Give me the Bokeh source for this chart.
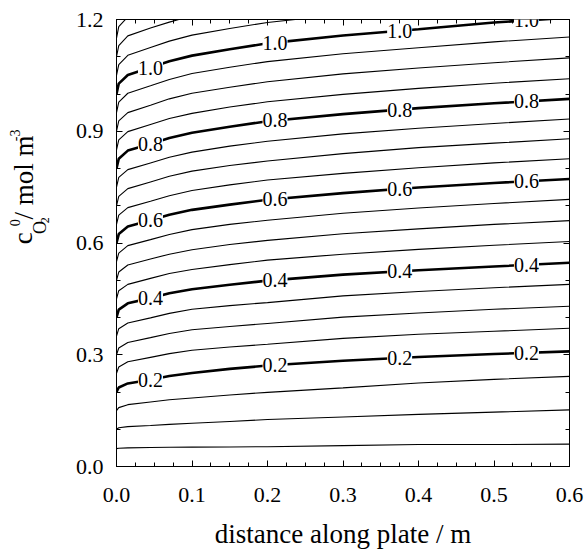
import math
import numpy as np
from bokeh.plotting import figure
from bokeh.layouts import row
from bokeh.models import (Range1d, LinearAxis, FixedTicker, PrintfTickFormatter,
                          CustomJSTickFormatter, Label, LabelSet, ColumnDataSource)
from bokeh.embed import file_html
from bokeh.resources import INLINE

nan = float("nan")

# distance along plate / m (positions where the contours were read)
x_pts = [0.0, 0.003, 0.015, 0.045, 0.07, 0.1, 0.15, 0.2, 0.3, 0.4, 0.5, 0.6]

# contour lines: c_O2^0 (mol m^-3) read at x_pts
c_005 = [0.048, 0.049, 0.050, 0.051, 0.0515, 0.052, 0.0525, 0.053, 0.056, 0.059, 0.059, 0.060]
c_010 = [0.100, 0.104, 0.107, 0.110, 0.113, 0.116, 0.121, 0.126, 0.133, 0.140, 0.146, 0.152]
c_015 = [0.150, 0.158, 0.166, 0.173, 0.179, 0.184, 0.192, 0.199, 0.211, 0.224, 0.234, 0.242]
c_020 = [0.200, 0.212, 0.223, 0.233, 0.243, 0.251, 0.262, 0.271, 0.284, 0.294, 0.302, 0.309]
c_025 = [0.250, 0.267, 0.281, 0.293, 0.303, 0.312, 0.321, 0.328, 0.344, 0.355, 0.363, 0.371]
c_030 = [0.300, 0.318, 0.333, 0.346, 0.357, 0.367, 0.376, 0.384, 0.401, 0.412, 0.422, 0.430]
c_035 = [0.350, 0.370, 0.385, 0.399, 0.411, 0.422, 0.432, 0.440, 0.458, 0.470, 0.480, 0.489]
c_040 = [0.400, 0.421, 0.438, 0.452, 0.465, 0.476, 0.488, 0.499, 0.515, 0.527, 0.537, 0.547]
c_045 = [0.450, 0.472, 0.489, 0.505, 0.518, 0.529, 0.542, 0.554, 0.570, 0.583, 0.594, 0.604]
c_050 = [0.500, 0.522, 0.541, 0.557, 0.570, 0.582, 0.596, 0.607, 0.625, 0.638, 0.650, 0.660]
c_055 = [0.550, 0.573, 0.593, 0.609, 0.623, 0.636, 0.650, 0.661, 0.680, 0.694, 0.706, 0.717]
c_060 = [0.600, 0.624, 0.644, 0.661, 0.676, 0.689, 0.703, 0.716, 0.734, 0.749, 0.761, 0.772]
c_065 = [0.650, 0.675, 0.695, 0.712, 0.727, 0.741, 0.756, 0.769, 0.787, 0.802, 0.815, 0.826]
c_070 = [0.700, 0.725, 0.746, 0.764, 0.779, 0.793, 0.808, 0.820, 0.840, 0.856, 0.868, 0.880]
c_075 = [0.750, 0.776, 0.797, 0.815, 0.830, 0.844, 0.860, 0.873, 0.893, 0.908, 0.921, 0.933]
c_080 = [0.800, 0.826, 0.848, 0.866, 0.882, 0.896, 0.912, 0.927, 0.946, 0.962, 0.975, 0.987]
c_085 = [0.850, 0.877, 0.899, 0.918, 0.934, 0.948, 0.965, 0.979, 0.999, 1.015, 1.029, 1.041]
c_090 = [0.900, 0.928, 0.950, 0.970, 0.987, 1.002, 1.018, 1.033, 1.054, 1.070, 1.084, 1.097]
c_095 = [0.950, 0.978, 1.002, 1.022, 1.039, 1.055, 1.072, 1.087, 1.108, 1.124, 1.140, 1.153]
c_100 = [1.000, 1.028, 1.051, 1.071, 1.088, 1.103, 1.120, 1.136, 1.157, 1.174, 1.192, 1.205]
c_105 = [1.050, 1.079, 1.104, 1.125, 1.142, 1.158, 1.176, 1.192, 1.214, nan, nan, nan]
c_110 = [1.100, 1.130, 1.156, 1.177, 1.193, 1.210, nan, nan, nan, nan, nan, nan]
c_115 = [1.150, 1.181, 1.207, nan, nan, nan, nan, nan, nan, nan, nan, nan]

levels = [0.05, 0.10, 0.15, 0.20, 0.25, 0.30, 0.35, 0.40, 0.45, 0.50, 0.55, 0.60,
          0.65, 0.70, 0.75, 0.80, 0.85, 0.90, 0.95, 1.00, 1.05, 1.10, 1.15]
curves = [c_005, c_010, c_015, c_020, c_025, c_030, c_035, c_040, c_045, c_050, c_055,
          c_060, c_065, c_070, c_075, c_080, c_085, c_090, c_095, c_100, c_105, c_110, c_115]

labelled_levels = [0.2, 0.4, 0.6, 0.8, 1.0]
label_texts = ["0.2", "0.4", "0.6", "0.8", "1.0"]

x_tick_labels = ["0.0", "0.1", "0.2", "0.3", "0.4", "0.5", "0.6"]
y_tick_labels = ["0.0", "0.3", "0.6", "0.9", "1.2"]

# ---- style ----
FONT = "Liberation Serif"
label_x_pos = [0.045, 0.21, 0.375, 0.543]
W, H = 587, 552
W_LAB = 60

x_major = [float(s) for s in x_tick_labels]
y_major = [float(s) for s in y_tick_labels]
x_minor = [x_major[0] + i * (x_major[1] - x_major[0]) / 4 for i in range(4 * (len(x_major) - 1) + 1)]
y_minor = [y_major[0] + i * (y_major[1] - y_major[0]) / 3 for i in range(3 * (len(y_major) - 1) + 1)]

p = figure(width=W - W_LAB, height=H, output_backend="svg", toolbar_location=None,
           x_range=Range1d(x_major[0], x_major[-1]), y_range=Range1d(y_major[0], y_major[-1]),
           min_border_left=116 - W_LAB, min_border_right=18, min_border_top=19,
           min_border_bottom=86, x_axis_location=None, y_axis_location=None)
p.background_fill_color = "white"
p.border_fill_color = "white"
p.outline_line_color = "black"
p.outline_line_width = 1
p.xgrid.visible = False
p.ygrid.visible = False


def style_axis(ax, show_labels, standoff):
    ax.axis_line_color = "black"
    ax.axis_line_width = 1
    ax.major_tick_in = 6
    ax.major_tick_out = 0
    ax.minor_tick_in = 4
    ax.minor_tick_out = 0
    ax.major_tick_line_color = "black"
    ax.minor_tick_line_color = "black"
    ax.major_label_text_font = FONT
    ax.major_label_text_font_size = "22px"
    ax.major_label_text_color = "black"
    ax.major_label_standoff = standoff
    if not show_labels:
        ax.formatter = CustomJSTickFormatter(code="return '';")
        ax.major_label_standoff = 0


xb = LinearAxis(ticker=FixedTicker(ticks=x_major, minor_ticks=x_minor),
                formatter=PrintfTickFormatter(format="%.1f"),
                axis_label="distance along plate / m")
style_axis(xb, True, 21)
xb.axis_label_text_font = FONT
xb.axis_label_text_font_size = "27px"
xb.axis_label_text_font_style = "normal"
xb.axis_label_text_color = "black"
xb.axis_label_standoff = 14
xt = LinearAxis(ticker=FixedTicker(ticks=x_major, minor_ticks=x_minor))
style_axis(xt, False, 0)
yl = LinearAxis(ticker=FixedTicker(ticks=y_major, minor_ticks=y_minor),
                formatter=PrintfTickFormatter(format="%.1f"))
style_axis(yl, True, 13)
yr = LinearAxis(ticker=FixedTicker(ticks=y_major, minor_ticks=y_minor))
style_axis(yr, False, 0)
p.add_layout(xb, "below")
p.add_layout(xt, "above")
p.add_layout(yl, "left")
p.add_layout(yr, "right")

for lev, cy in zip(levels, curves):
    bold = any(abs(lev - b) < 1e-9 for b in labelled_levels)
    p.line(x_pts, cy, line_color="black", line_width=2.6 if bold else 1.1)

# contour labels placed on their lines
lx, ly, lt = [], [], []
for lev, txt in zip(labelled_levels, label_texts):
    cy = curves[[abs(lev - l) < 1e-9 for l in levels].index(True)]
    for xx in label_x_pos:
        lx.append(xx)
        ly.append(float(np.interp(xx, x_pts, cy)))
        lt.append(txt)
lab_src = ColumnDataSource(dict(x=lx, y=ly, text=lt))
p.add_layout(LabelSet(x="x", y="y", text="text", source=lab_src,
                      text_align="center", text_baseline="middle",
                      text_font=FONT, text_font_size="20px", text_color="black",
                      background_fill_color="white"))

# y-axis title in its own narrow panel (pixel coordinates, origin bottom-left)
q = figure(width=W_LAB, height=H, output_backend="svg", toolbar_location=None,
           x_range=Range1d(0, W_LAB), y_range=Range1d(0, H),
           min_border_left=0, min_border_right=0, min_border_top=0, min_border_bottom=0,
           x_axis_location=None, y_axis_location=None)
q.outline_line_color = None
q.xgrid.visible = False
q.ygrid.visible = False
q.background_fill_color = "white"
q.border_fill_color = "white"

rot = math.pi / 2
# (text, centre x px, centre y px from top, font size)
ylab_parts = [
    ("c", 22, 270, "27px"),
    ("O", 39, 257, "18px"),
    ("2", 44, 248, "12px"),
    ("0", 14, 251, "14px"),
    ("/ mol m", 23, 195, "27px"),
    ("-3", 14, 143, "14px"),
]
for txt, xx, yy, fs in ylab_parts:
    q.add_layout(Label(x=xx, y=H - yy, text=txt, angle=rot, text_align="center",
                       text_baseline="middle", text_font=FONT, text_font_size=fs,
                       text_color="black"))

layout = row(q, p, spacing=0)
open("out.html", "w").write(file_html(layout, INLINE))
